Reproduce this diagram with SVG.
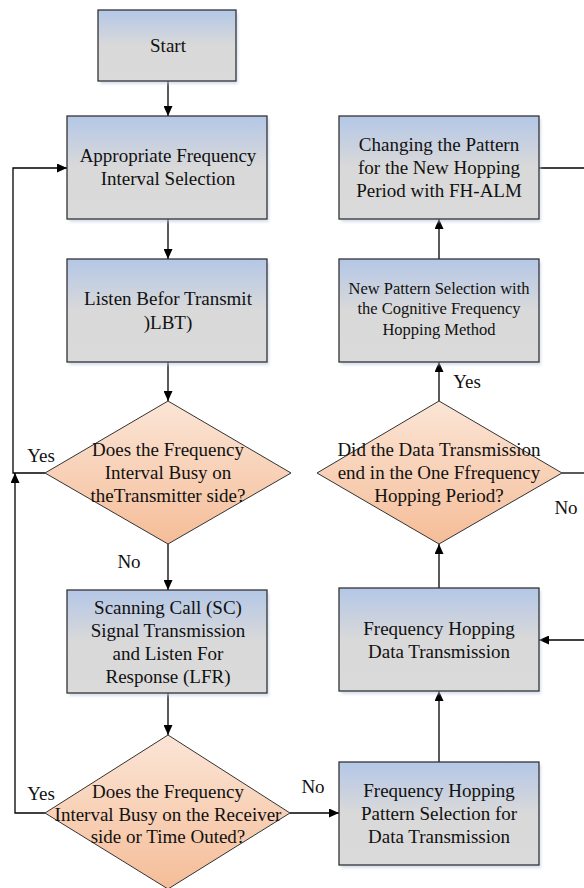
<svg xmlns="http://www.w3.org/2000/svg" width="584" height="888" viewBox="0 0 584 888">
<defs>
<linearGradient id="gBox" x1="0" y1="0" x2="0" y2="1">
<stop offset="0" stop-color="#b4c7e7"/>
<stop offset="0.5" stop-color="#d9d9d9"/>
<stop offset="1" stop-color="#dadada"/>
</linearGradient>
<linearGradient id="gDia" x1="0" y1="0" x2="0" y2="1">
<stop offset="0" stop-color="#fbe5d6"/>
<stop offset="1" stop-color="#f5bd98"/>
</linearGradient>
<filter id="sh" x="-10%" y="-10%" width="130%" height="130%">
<feGaussianBlur stdDeviation="1.5"/>
</filter>
<marker id="ar" markerUnits="userSpaceOnUse" markerWidth="10" markerHeight="9" refX="10" refY="4.5" orient="auto">
<path d="M0,0 L10,4.5 L0,9 z" fill="#000"/>
</marker>
</defs>
<style>
.box{fill:url(#gBox);stroke:#333;stroke-width:1.3}
.dia{fill:url(#gDia);stroke:#333;stroke-width:1}
.shd{fill:#bccbe3;opacity:0.6;filter:url(#sh)}
.t{font-family:"Liberation Serif","Times New Roman",serif;font-size:19px;fill:#111;text-anchor:middle}
.s{font-size:16.5px}
.ln{fill:none;stroke:#000;stroke-width:1.3}
.arw{marker-end:url(#ar)}
</style>

<g id="connectors">
<path class="ln arw" d="M168,81 V116"/>
<path class="ln arw" d="M168,219 V259"/>
<path class="ln arw" d="M168,362 V401"/>
<path class="ln arw" d="M45,473 H13 V168 H67"/>
<path class="ln arw" d="M168,544 V590"/>
<path class="ln arw" d="M168,693 V735"/>
<path class="ln arw" d="M45,813 H15 V473"/>
<path class="ln arw" d="M290,813 H339"/>
<path class="ln arw" d="M439,762 V691"/>
<path class="ln arw" d="M439,588 V544"/>
<path class="ln arw" d="M439,401 V362"/>
<path class="ln arw" d="M439,259 V219"/>
<path class="ln" d="M539,168 H584"/>
<path class="ln" d="M562,473 H584"/>
<path class="ln arw" d="M584,640 H539"/>
<text class="t" x="41" y="462">Yes</text>
<text class="t" x="129" y="568">No</text>
<text class="t" x="41" y="800">Yes</text>
<text class="t" x="313" y="793">No</text>
<text class="t" x="467" y="388">Yes</text>
<text class="t" x="566" y="514">No</text>
</g>

<g id="start">
<rect class="shd" x="100" y="13" width="138" height="71"/>
<rect class="box" x="98" y="10" width="138" height="71"/>
<text class="t" x="168" y="52">Start</text>
</g>

<g id="interval-selection">
<rect class="shd" x="69" y="119" width="200" height="103"/>
<rect class="box" x="67" y="116" width="200" height="103"/>
<text class="t" x="168" y="162">Appropriate Frequency</text>
<text class="t" x="168" y="185">Interval Selection</text>
</g>

<g id="lbt">
<rect class="shd" x="69" y="262" width="200" height="103"/>
<rect class="box" x="67" y="259" width="200" height="103"/>
<text class="t" x="168" y="305">Listen Befor Transmit</text>
<text class="t" x="168" y="329">)LBT)</text>
</g>

<g id="tx-busy">
<polygon class="dia" points="168,401 291,473 168,544 45,473"/>
<text class="t" x="168" y="456">Does the Frequency</text>
<text class="t" x="168" y="479">Interval Busy on</text>
<text class="t" x="168" y="502">theTransmitter side?</text>
</g>

<g id="sc-lfr">
<rect class="shd" x="69" y="593" width="200" height="103"/>
<rect class="box" x="67" y="590" width="200" height="103"/>
<text class="t" x="168" y="614">Scanning Call (SC)</text>
<text class="t" x="168" y="637">Signal Transmission</text>
<text class="t" x="168" y="660">and Listen For</text>
<text class="t" x="168" y="683">Response (LFR)</text>
</g>

<g id="rx-busy">
<polygon class="dia" points="168,735 290,813 168,889 45,813"/>
<text class="t" x="168" y="798">Does the Frequency</text>
<text class="t" x="168" y="821">Interval Busy on the Receiver</text>
<text class="t" x="168" y="843">side or Time Outed?</text>
</g>

<g id="fh-pattern-selection">
<rect class="shd" x="341" y="765" width="200" height="103"/>
<rect class="box" x="339" y="762" width="200" height="103"/>
<text class="t" x="439" y="797">Frequency Hopping</text>
<text class="t" x="439" y="820">Pattern Selection for</text>
<text class="t" x="439" y="843">Data Transmission</text>
</g>

<g id="fh-data-tx">
<rect class="shd" x="341" y="591" width="200" height="103"/>
<rect class="box" x="339" y="588" width="200" height="103"/>
<text class="t" x="439" y="635">Frequency Hopping</text>
<text class="t" x="439" y="658">Data Transmission</text>
</g>

<g id="tx-end">
<polygon class="dia" points="439,401 562,473 439,544 317,473"/>
<text class="t" x="439" y="456">Did the Data Transmission</text>
<text class="t" x="439" y="479">end in the One Ffrequency</text>
<text class="t" x="439" y="502">Hopping Period?</text>
</g>

<g id="new-pattern">
<rect class="shd" x="341" y="262" width="200" height="103"/>
<rect class="box" x="339" y="259" width="200" height="103"/>
<text class="t s" x="439" y="294">New Pattern Selection with</text>
<text class="t s" x="439" y="314">the Cognitive Frequency</text>
<text class="t s" x="439" y="335">Hopping Method</text>
</g>

<g id="change-pattern">
<rect class="shd" x="341" y="119" width="200" height="103"/>
<rect class="box" x="339" y="116" width="200" height="103"/>
<text class="t" x="439" y="151">Changing the Pattern</text>
<text class="t" x="439" y="174">for the New Hopping</text>
<text class="t" x="439" y="197">Period with FH-ALM</text>
</g>
</svg>
